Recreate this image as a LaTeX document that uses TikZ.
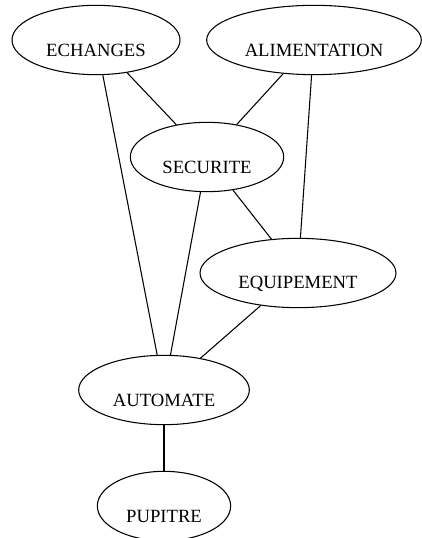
\documentclass[tikz,border=0pt]{standalone}
\usepackage{fontspec}
\setmainfont{Liberation Serif}
\usetikzlibrary{shapes.geometric}

\tikzset{
  ent/.style={draw, ellipse, inner sep=0pt, minimum height=52pt, line width=0.8pt},
  txt/.style={yshift=-8pt, inner sep=0pt, font=\fontsize{14}{16}\selectfont}
}

\begin{document}
\begin{tikzpicture}[x=0.75pt, y=-0.75pt, line width=0.8pt]
  \useasboundingbox (0,0) rectangle (421,538);
  \node[ent, minimum width=126pt, label={[txt]center:ECHANGES}] (ech) at (96,40) {};
  \node[ent, minimum width=161pt, label={[txt]center:ALIMENTATION}] (ali) at (314,40) {};
  \node[ent, minimum width=115pt, label={[txt]center:SECURITE}] (sec) at (207,157) {};
  \node[ent, minimum width=147pt, label={[txt]center:EQUIPEMENT}] (equ) at (298,273) {};
  \node[ent, minimum width=128pt, label={[txt]center:AUTOMATE}] (aut) at (164,390) {};
  \node[ent, minimum width=100pt, label={[txt]center:PUPITRE}] (pup) at (164,506) {};
  \draw (ech) -- (sec);
  \draw (ech) -- (aut);
  \draw (ali) -- (sec);
  \draw (ali) -- (equ);
  \draw (sec) -- (aut);
  \draw (sec) -- (equ);
  \draw (equ) -- (aut);
  \draw (aut) -- (pup);
\end{tikzpicture}
\end{document}
